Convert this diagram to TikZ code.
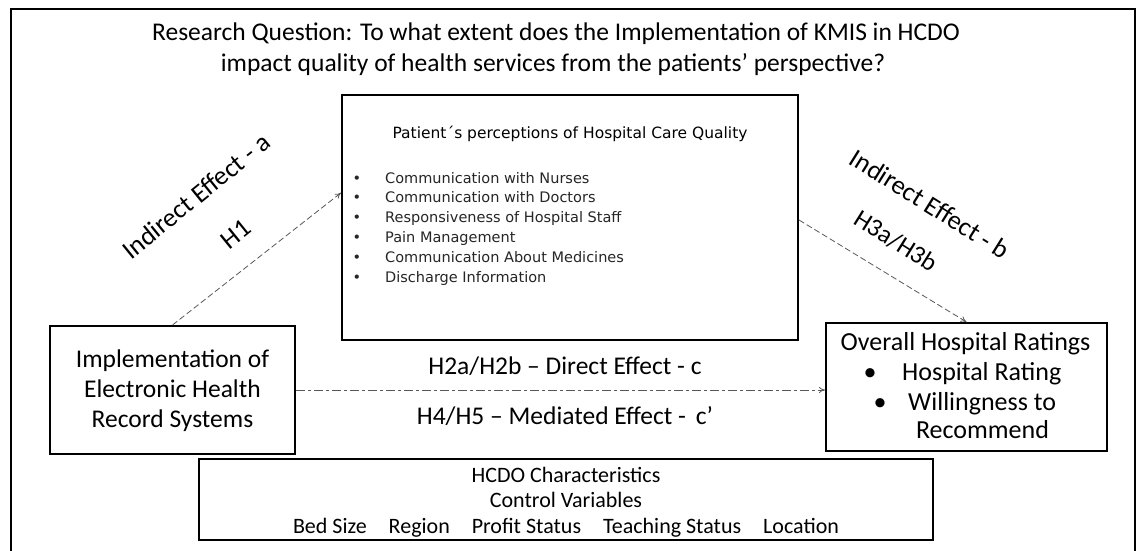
\documentclass[tikz,border=0pt]{standalone}
\usepackage{fontspec}
\setmainfont{Carlito}
\newfontfamily\dejavu{DejaVu Sans}
\usetikzlibrary{arrows.meta,calc}
\begin{document}
\begin{tikzpicture}[x=1pt,y=-1pt,
  box/.style={draw=black,line width=2pt,inner sep=0pt,fill=none},
  big/.style={inner sep=0pt,font=\fontsize{25.5}{31}\selectfont},
  rlab/.style={inner sep=0pt,font=\fontsize{26.5}{31}\selectfont},
  mid/.style={inner sep=0pt,font=\fontsize{22}{26}\selectfont},
  small/.style={inner sep=0pt,font=\dejavu\fontsize{14.5}{18}\selectfont,text=black!85},
  ptitle/.style={inner sep=0pt,font=\dejavu\fontsize{15.5}{18}\selectfont},
  conn/.style={draw=black!65,line width=0.8pt,dash pattern=on 6pt off 3pt,-{To[length=6pt,width=6pt]}},
  hconn/.style={draw=black!65,line width=0.8pt,dash pattern=on 9pt off 3pt on 3pt off 3pt,-{To[length=6pt,width=6pt]}},
]
\useasboundingbox (0,0) rectangle (1141,550);
\fill[white] (0,0) rectangle (1141,550);
\draw[line width=1.2pt] (11,560) -- (11,9) -- (1135,9) -- (1135,560);

% title
\node[big,anchor=base] (t1) at (556,40) {Research Question: To what extent does the Implementation of KMIS in HCDO};
\node[big,anchor=base] (t2) at (553,71) {impact quality of health services from the patients’ perspective?};

% centre box
\node[box,minimum width=456pt,minimum height=245pt] (pbox) at (570,217.5) {};
\node[ptitle,anchor=base] (ph) at (570,138) {Patient´s perceptions of Hospital Care Quality};
\foreach \y/\t [count=\i] in {183/Communication with Nurses,202/Communication with Doctors,222/Responsiveness of Hospital Staff,242/Pain Management,262/Communication About Medicines,282/Discharge Information}{
  \node[small,anchor=base] (pb\i) at (357,\y) {•};
  \node[small,anchor=base west] (pi\i) at (385,\y) {\t};
}

% EHR box
\node[box,minimum width=245pt,minimum height=128pt] (ehr) at (172.5,390) {};
\node[big,anchor=base] (e1) at (172.5,367) {Implementation of};
\node[big,anchor=base] (e2) at (172.5,397) {Electronic Health};
\node[big,anchor=base] (e3) at (172.5,427) {Record Systems};

% Overall ratings box
\node[box,minimum width=281pt,minimum height=128pt] (ohr) at (966.5,387) {};
\node[big,anchor=base,font=\fontsize{26}{31}\selectfont] (o1) at (965.5,350) {Overall Hospital Ratings};
\node[big,anchor=base,font=\fontsize{26}{31}\selectfont] (ob1) at (870,380) {•};
\node[big,anchor=base west,font=\fontsize{26}{31}\selectfont] (o2) at (902,380) {Hospital Rating};
\node[big,anchor=base,font=\fontsize{26}{31}\selectfont] (ob2) at (880,410) {•};
\node[big,anchor=base west,font=\fontsize{26}{31}\selectfont] (o3) at (908,410) {Willingness to};
\node[big,anchor=base,font=\fontsize{26}{31}\selectfont] (o4) at (982.5,438) {Recommend};

% HCDO box
\node[box,minimum width=734pt,minimum height=81pt] (hcdo) at (566,499) {};
\node[mid,anchor=base] (h1) at (566,482) {HCDO Characteristics};
\node[mid,anchor=base] (h2) at (566,507.5) {Control Variables};
\node[mid,anchor=base] (h3) at (566,533) {Bed Size\hspace{1em}Region\hspace{1em}Profit Status\hspace{1em}Teaching Status\hspace{1em}Location};

% connectors
\draw[conn] (ehr.north) -- ($(pbox.north west)!0.4!(pbox.south west)$);
\draw[conn] ($(pbox.north east)!0.51!(pbox.south east)$) -- (ohr.north);
\draw[hconn] (ehr.east) -- (ehr.east -| ohr.west);

% connector labels
\node[rlab,rotate=39] (la) at (196,196) {Indirect Effect - a};
\node[rlab,rotate=39] (lh1) at (236,234) {H1};
\node[rlab,rotate=-32] (lb) at (930,204) {Indirect Effect - b};
\node[big,rotate=-32] (lh3) at (896,241) {H3a/H3b};
\node[big,anchor=base] (lc) at (565,374) {H2a/H2b – Direct Effect - c};
\node[big,anchor=base] (lm) at (565,424) {H4/H5 – Mediated Effect -\, c’};
\end{tikzpicture}
\end{document}
